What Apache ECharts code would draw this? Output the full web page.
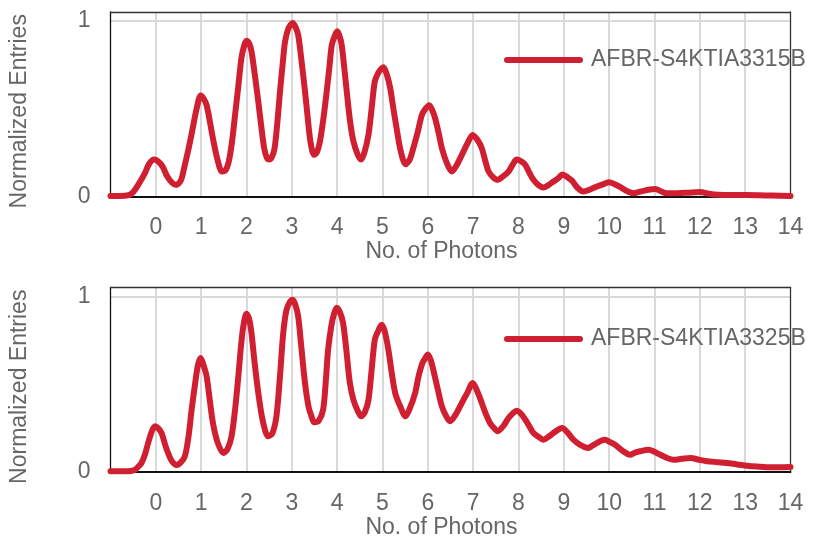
<!DOCTYPE html>
<html>
<head>
<meta charset="utf-8">
<script src="https://cdn.jsdelivr.net/npm/echarts@6/dist/echarts.min.js"></script>
<style>
html,body{margin:0;padding:0;background:#fff;}
#chart{width:814px;height:540px;}
</style>
</head>
<body>
<div id="chart"></div>
<script>
// ---- Data ----
const seriesNames = ['AFBR-S4KTIA3315B', 'AFBR-S4KTIA3325B'];
const xTicks = [0,1,2,3,4,5,6,7,8,9,10,11,12,13,14];
const yTicks = [0, 1];

const topX = [-1.0,-0.8,-0.6,-0.5,-0.39,-0.24,-0.15,-0.04,0.05,0.15,0.24,0.35,0.45,0.55,0.64,0.72,0.80,0.90,0.99,1.06,1.12,1.19,1.26,1.36,1.46,1.54,1.61,1.68,1.74,1.82,1.89,1.95,2.0,2.06,2.11,2.18,2.26,2.33,2.39,2.45,2.5,2.56,2.62,2.68,2.74,2.80,2.85,2.93,3.02,3.08,3.14,3.21,3.29,3.35,3.41,3.49,3.55,3.62,3.7,3.77,3.83,3.88,3.94,4.0,4.05,4.1,4.17,4.25,4.3,4.36,4.45,4.53,4.6,4.69,4.76,4.83,4.9,4.95,5.02,5.1,5.17,5.24,5.31,5.4,5.51,5.6,5.68,5.78,5.87,5.95,6.03,6.1,6.16,6.24,6.31,6.42,6.53,6.64,6.75,6.87,6.99,7.1,7.19,7.27,7.34,7.44,7.54,7.66,7.78,7.88,7.96,8.06,8.15,8.24,8.33,8.44,8.55,8.66,8.77,8.88,8.97,9.08,9.18,9.3,9.43,9.58,9.73,9.87,10.0,10.12,10.24,10.4,10.54,10.66,10.76,10.9,11.02,11.14,11.27,11.5,11.75,12.0,12.2,12.4,12.7,13.0,13.3,13.6,14.0];
const topY = [0.003,0.003,0.008,0.025,0.066,0.133,0.185,0.21,0.2,0.17,0.12,0.08,0.066,0.09,0.18,0.27,0.37,0.50,0.575,0.555,0.52,0.43,0.33,0.21,0.142,0.15,0.2,0.31,0.446,0.63,0.79,0.86,0.886,0.87,0.826,0.70,0.54,0.39,0.275,0.22,0.21,0.225,0.275,0.42,0.6,0.76,0.88,0.96,0.987,0.965,0.92,0.78,0.6,0.45,0.313,0.237,0.25,0.313,0.45,0.6,0.74,0.86,0.91,0.94,0.915,0.863,0.70,0.503,0.40,0.313,0.24,0.21,0.25,0.35,0.50,0.655,0.70,0.72,0.735,0.69,0.617,0.50,0.39,0.26,0.184,0.21,0.275,0.37,0.465,0.50,0.52,0.49,0.446,0.36,0.275,0.19,0.142,0.18,0.237,0.30,0.35,0.32,0.275,0.20,0.142,0.11,0.095,0.115,0.142,0.185,0.21,0.2,0.18,0.135,0.095,0.065,0.051,0.065,0.085,0.105,0.125,0.11,0.09,0.05,0.028,0.04,0.057,0.07,0.081,0.07,0.055,0.03,0.019,0.026,0.032,0.04,0.042,0.03,0.019,0.019,0.022,0.025,0.016,0.01,0.008,0.008,0.007,0.005,0.003];

const botX = [-1.0,-0.7,-0.55,-0.46,-0.39,-0.32,-0.24,-0.17,-0.09,-0.02,0.05,0.13,0.2,0.27,0.36,0.46,0.55,0.64,0.72,0.79,0.87,0.93,0.99,1.05,1.12,1.19,1.26,1.36,1.49,1.58,1.67,1.75,1.82,1.88,1.93,2.0,2.06,2.11,2.18,2.26,2.36,2.48,2.57,2.66,2.74,2.81,2.88,2.95,3.02,3.08,3.14,3.21,3.29,3.37,3.43,3.49,3.59,3.69,3.75,3.8,3.87,3.93,3.99,4.06,4.13,4.2,4.28,4.36,4.45,4.53,4.61,4.69,4.76,4.83,4.9,4.98,5.05,5.13,5.2,5.28,5.38,5.51,5.6,5.72,5.8,5.88,5.95,6.0,6.06,6.12,6.22,6.31,6.4,6.49,6.62,6.75,6.87,6.99,7.09,7.19,7.28,7.37,7.46,7.54,7.66,7.78,7.88,7.96,8.06,8.15,8.24,8.33,8.44,8.55,8.66,8.77,8.87,8.96,9.08,9.21,9.36,9.54,9.63,9.73,9.82,9.91,10.02,10.13,10.3,10.46,10.57,10.68,10.87,11.0,11.13,11.28,11.42,11.6,11.79,11.98,12.16,12.4,12.6,12.82,13.04,13.26,13.48,13.75,14.0];
const botY = [0.004,0.004,0.006,0.012,0.03,0.05,0.10,0.165,0.23,0.26,0.25,0.22,0.16,0.108,0.06,0.04,0.055,0.089,0.2,0.355,0.51,0.61,0.649,0.61,0.545,0.41,0.279,0.17,0.108,0.13,0.203,0.36,0.545,0.72,0.83,0.9,0.87,0.79,0.62,0.45,0.29,0.203,0.22,0.317,0.55,0.79,0.92,0.965,0.98,0.95,0.886,0.71,0.507,0.37,0.32,0.283,0.29,0.355,0.52,0.696,0.83,0.9,0.935,0.91,0.848,0.70,0.507,0.41,0.35,0.317,0.34,0.41,0.58,0.753,0.80,0.838,0.80,0.696,0.57,0.45,0.38,0.317,0.36,0.45,0.55,0.62,0.65,0.668,0.64,0.582,0.47,0.374,0.32,0.289,0.33,0.393,0.45,0.507,0.46,0.393,0.33,0.279,0.25,0.232,0.26,0.307,0.335,0.349,0.33,0.298,0.26,0.222,0.20,0.184,0.20,0.222,0.24,0.25,0.225,0.184,0.155,0.137,0.15,0.165,0.178,0.184,0.17,0.155,0.12,0.098,0.11,0.118,0.127,0.115,0.098,0.08,0.07,0.075,0.08,0.07,0.061,0.056,0.051,0.043,0.036,0.031,0.027,0.027,0.028];

// ---- Chart ----
const FONT = "'Liberation Sans', Arial, sans-serif";
const TXT = '#666666';
const RED = '#cf1f31';
const pair = (xs, ys) => xs.map((x, i) => [x, ys[i]]);
const panels = [
  {top: 12, legendTop: 43.5},
  {top: 287.5, legendTop: 322.5}
];
const icon = 'path://M3,0H76A3,3,0,0,1,76,6H3A3,3,0,0,1,3,0Z';

const grids = panels.map(p => ({
  left: 110.5, right: 23.5, top: p.top, height: 184.5, show: false
}));
const splitStyle = {color: '#d9d9d9', width: 2};
// x axes at bottom + mirrored axes at top/right to form the dark frame
const xAxes = [];
const yAxes = [];
panels.forEach((p, i) => {
  xAxes.push({
    type: 'value', gridIndex: i, min: -1, max: 14, interval: 1, position: 'bottom',
    name: 'No. of Photons', nameLocation: 'middle', nameGap: 41,
    nameTextStyle: {fontFamily: FONT, fontSize: 23, color: TXT, padding: [0, 18, 0, 0]},
    axisLine: {show: true, onZero: false, lineStyle: {color: '#111', width: 2}},
    axisTick: {show: false},
    axisLabel: {
      margin: 20, fontFamily: FONT, fontSize: 23, color: TXT,
      formatter: v => xTicks.indexOf(v) >= 0 ? String(v) : ''
    },
    splitLine: {show: true, showMinLine: false, showMaxLine: false, lineStyle: splitStyle}
  });
  xAxes.push({
    type: 'value', gridIndex: i, min: -1, max: 14, position: 'top',
    axisLine: {show: true, onZero: false, lineStyle: {color: '#333', width: 1.3}},
    axisTick: {show: false}, axisLabel: {show: false}, splitLine: {show: false}
  });
  yAxes.push({
    type: 'value', gridIndex: i, min: 0, max: 1.05, interval: 1, position: 'left',
    name: 'Normalized Entries', nameLocation: 'middle', nameGap: 79.5, nameRotate: 90,
    nameTextStyle: {fontFamily: FONT, fontSize: 23, color: TXT, padding: [0, 14, 0, 0]},
    axisLine: {show: true, onZero: false, lineStyle: {color: '#111', width: 1.3}},
    axisTick: {show: false},
    axisLabel: {
      margin: 20, fontFamily: FONT, fontSize: 23, color: TXT,
      formatter: v => yTicks.indexOf(v) >= 0 ? String(v) : ''
    },
    splitLine: {show: true, showMinLine: false, showMaxLine: false, lineStyle: splitStyle}
  });
  yAxes.push({
    type: 'value', gridIndex: i, min: 0, max: 1.05, position: 'right',
    axisLine: {show: true, onZero: false, lineStyle: {color: '#333', width: 1.3}},
    axisTick: {show: false}, axisLabel: {show: false}, splitLine: {show: false}
  });
});
const legends = panels.map((p, i) => ({
  data: [{name: seriesNames[i], icon: icon}],
  left: 499, top: p.legendTop, itemWidth: 79, itemHeight: 6,
  textStyle: {fontFamily: FONT, fontSize: 23, color: TXT, padding: [0, 0, 0, 3]},
  itemStyle: {color: RED}
}));
const series = [
  {name: seriesNames[0], type: 'line', xAxisIndex: 0, yAxisIndex: 0, data: pair(topX, topY)},
  {name: seriesNames[1], type: 'line', xAxisIndex: 2, yAxisIndex: 2, data: pair(botX, botY)}
].map(s => Object.assign(s, {
  showSymbol: false, symbol: 'none', smooth: 0.3, color: RED,
  lineStyle: {color: RED, width: 6, cap: 'round', join: 'round'}, z: 5
}));

const chart = echarts.init(document.getElementById('chart'), null, {renderer: 'canvas'});
chart.setOption({
  animation: false,
  backgroundColor: '#fff',
  grid: grids, xAxis: xAxes, yAxis: yAxes, legend: legends, series: series
});
</script>
</body>
</html>
